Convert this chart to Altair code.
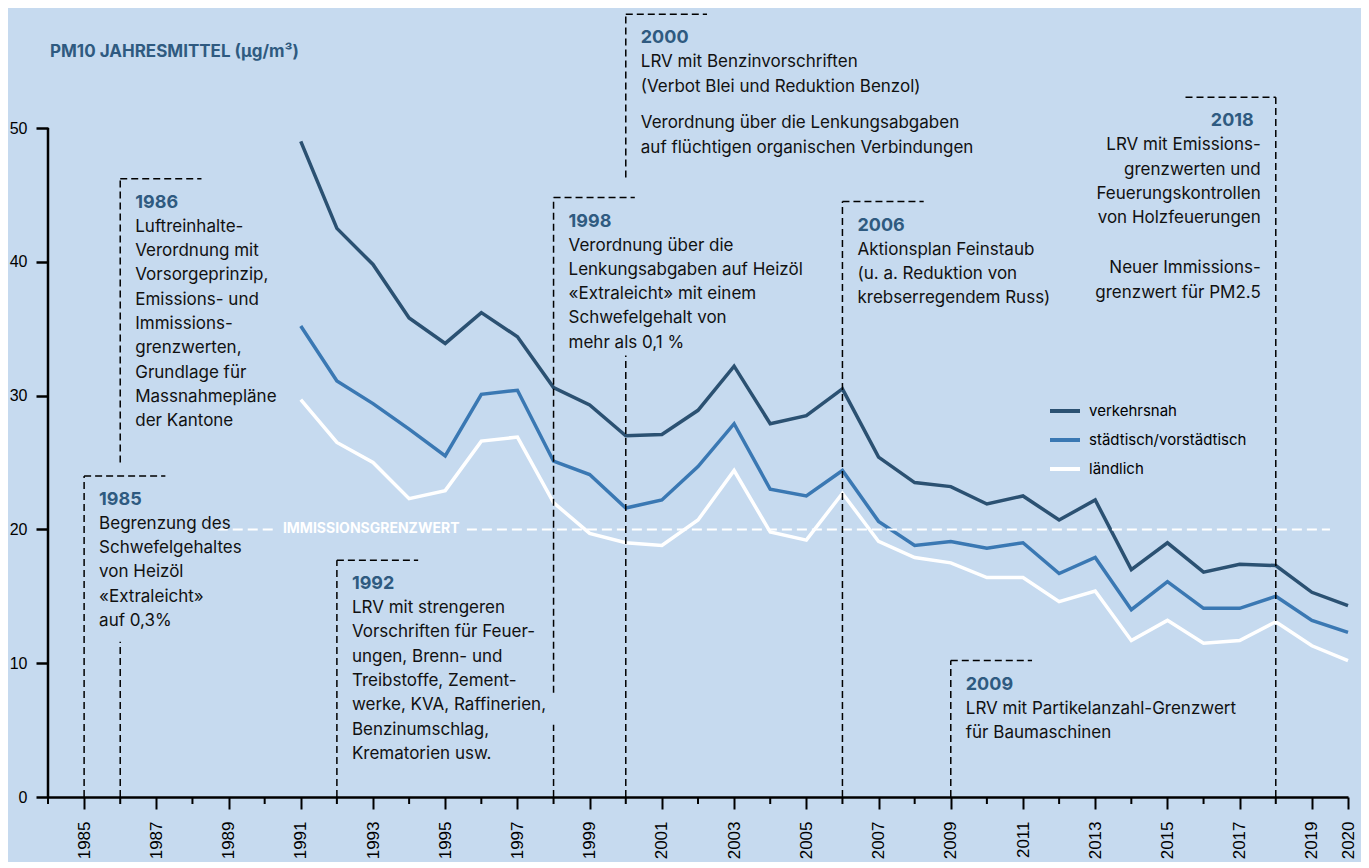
import altair as alt
import pandas as pd

# ---------------- data ----------------
years = list(range(1991, 2021))
verkehrsnah = [49.0, 42.5, 39.8, 35.8, 33.9, 36.2, 34.4, 30.6, 29.3, 27.0,
               27.1, 28.9, 32.2, 27.9, 28.5, 30.5, 25.4, 23.5, 23.2, 21.9,
               22.5, 20.7, 22.2, 17.0, 19.0, 16.8, 17.4, 17.3, 15.3, 14.3]
staedtisch = [35.2, 31.1, 29.4, 27.5, 25.5, 30.1, 30.4, 25.1, 24.1, 21.6,
              22.2, 24.7, 27.9, 23.0, 22.5, 24.4, 20.6, 18.8, 19.1, 18.6,
              19.0, 16.7, 17.9, 14.0, 16.1, 14.1, 14.1, 15.0, 13.2, 12.3]
laendlich = [29.7, 26.5, 25.0, 22.3, 22.9, 26.6, 26.9, 22.0, 19.7, 19.0,
             18.8, 20.7, 24.4, 19.8, 19.2, 22.7, 19.1, 17.9, 17.5, 16.4,
             16.4, 14.6, 15.4, 11.7, 13.2, 11.5, 11.7, 13.1, 11.3, 10.2]
series_names = ["verkehrsnah", "städtisch/vorstädtisch", "ländlich"]
series_colors = ["#2b5172", "#3a78b3", "#ffffff"]

grenzwert = 20
grenzwert_label = "IMMISSIONSGRENZWERT"
grenzwert_segments_x1 = [1988.7, 1995.6]
grenzwert_segments_x2 = [1990.3, 2019.5]
grenzwert_label_x = 1992.95

y_ticks = [0, 10, 20, 30, 40, 50]
x_major_ticks = [y for y in range(1984, 2021) if y % 2 == 1] + [2020]
x_minor_ticks = [y for y in range(1984, 2020) if y % 2 == 0]

# events (left aligned)
ev_years = [1985, 1986, 1992, 1998, 2000, 2006, 2009]
ev_tops = [24.0, 46.2, 17.7, 44.8, 58.5, 44.5, 10.2]
ev_bodies = [
    "Begrenzung des\nSchwefelgehaltes\nvon Heizöl\n«Extraleicht»\nauf 0,3%",
    "Luftreinhalte-\nVerordnung mit\nVorsorgeprinzip,\nEmissions- und\nImmissions-\ngrenzwerten,\nGrundlage für\nMassnahmepläne\nder Kantone",
    "LRV mit strengeren\nVorschriften für Feuer-\nungen, Brenn- und\nTreibstoffe, Zement-\nwerke, KVA, Raffinerien,\nBenzinumschlag,\nKrematorien usw.",
    "Verordnung über die\nLenkungsabgaben auf Heizöl\n«Extraleicht» mit einem\nSchwefelgehalt von\nmehr als 0,1 %",
    "LRV mit Benzinvorschriften\n(Verbot Blei und Reduktion Benzol)",
    "Aktionsplan Feinstaub\n(u. a. Reduktion von\nkrebserregendem Russ)",
    "LRV mit Partikelanzahl-Grenzwert\nfür Baumaschinen",
]
ev2000_extra = "Verordnung über die Lenkungsabgaben\nauf flüchtigen organischen Verbindungen"

# event (right aligned)
ev_r_year = 2018
ev_r_top = 52.3
ev_r_body = "LRV mit Emissions-\ngrenzwerten und\nFeuerungskontrollen\nvon Holzfeuerungen"
ev_r_extra = "Neuer Immissions-\ngrenzwert für PM2.5"

# dashed marker segments (vertical): year, from, to
vseg_year = [1985, 1986, 1986, 1992, 1998, 1998, 2000, 2000, 2006, 2009, 2018]
vseg_y1 = [0, 0, 25.0, 0, 0, 7.8, 0, 46.3, 0, 0, 0]
vseg_y2 = [24.0, 11.6, 46.2, 17.7, 5.4, 44.8, 33.0, 58.5, 44.5, 10.2, 52.3]
# dashed marker segments (horizontal)
hseg_x1 = [1985, 1986, 1992, 1998, 2000, 2006, 2009, 2015.5]
hseg_x2 = [1987.25, 1988.25, 1994.25, 2000.25, 2002.25, 2008.25, 2011.25, 2018]
hseg_y = [24.0, 46.2, 17.7, 44.8, 58.5, 44.5, 10.2, 52.3]

title_text = "PM10 JAHRESMITTEL (µg/m³)"

# ---------------- tables ----------------
rows = []
for name, vals in zip(series_names, [verkehrsnah, staedtisch, laendlich]):
    for y, v in zip(years, vals):
        rows.append({"x": y, "y": v, "Typ": name})
df = pd.DataFrame(rows)

df_ev = pd.DataFrame({"x": ev_years, "y": ev_tops,
                      "label": [str(y) for y in ev_years], "body": ev_bodies})
df_ev2000 = pd.DataFrame({"x": [2000], "y": [58.5], "body": [ev2000_extra]})
df_evr = pd.DataFrame({"x": [ev_r_year], "y": [ev_r_top], "label": [str(ev_r_year)],
                       "body": [ev_r_body], "extra": [ev_r_extra]})
df_v = pd.DataFrame({"x": vseg_year, "y": vseg_y1, "y2": vseg_y2})
df_h = pd.DataFrame({"x": hseg_x1, "x2": hseg_x2, "y": hseg_y})
df_g = pd.DataFrame({"x": grenzwert_segments_x1, "x2": grenzwert_segments_x2,
                     "y": [grenzwert] * len(grenzwert_segments_x1)})
df_gl = pd.DataFrame({"x": [grenzwert_label_x], "y": [grenzwert], "t": [grenzwert_label]})
df_yaxis = pd.DataFrame({"x": [1984], "y": [y_ticks[0]], "y2": [y_ticks[-1]]})
df_minor = pd.DataFrame({"x": x_minor_ticks})

# ---------------- scales & axes ----------------
XS = alt.Scale(domain=[1984, 2020], nice=False, zero=False)
YS = alt.Scale(domain=[0, 58.97], nice=False, zero=True)
PLOT_W, PLOT_H = 1300, 789

AX = alt.Axis(values=x_major_ticks, format="d", title=None, grid=False,
              labelAngle=-90, labelFont="Liberation Sans", labelFontSize=17, labelColor="black",
              labelPadding=12, labelFlush=False, labelOverlap=False, tickSize=12,
              tickWidth=2, tickColor="black", domainColor="black", domainWidth=2.5)
AY = alt.Axis(values=y_ticks, domain=False, grid=False, title=None, tickSize=12, tickWidth=2.5,
              tickColor="black", labelFont="Liberation Sans", labelFontSize=16,
              labelColor="black", labelPadding=9)

FONT = "Inter"
YEARCOL = "#2f5a80"


def X(field="x"):
    return alt.X(f"{field}:Q", scale=XS, axis=AX)


def Y(field="y"):
    return alt.Y(f"{field}:Q", scale=YS, axis=AY)


lines = alt.Chart(df).mark_line(strokeWidth=3.5).encode(
    x=X(), y=Y(),
    color=alt.Color("Typ:N", scale=alt.Scale(domain=series_names, range=series_colors),
                    legend=alt.Legend(orient="none", legendX=1000, legendY=386, title=None,
                                      symbolType="stroke", symbolSize=900, symbolStrokeWidth=4,
                                      labelFont=FONT, labelFontSize=15, labelColor="black",
                                      labelOffset=7, rowPadding=4, padding=0)),
    detail="Typ:N",
)

minor_ticks = alt.Chart(df_minor).mark_rule(color="black", strokeWidth=2).encode(
    x=X(), y=alt.value(PLOT_H), y2=alt.value(PLOT_H + 7))

yaxis_line = alt.Chart(df_yaxis).mark_rule(color="black", strokeWidth=2.5).encode(
    x=X(), y=Y(), y2="y2:Q")

grenz = alt.Chart(df_g).mark_rule(color="white", strokeWidth=2, strokeDash=[10, 5]).encode(
    x=X(), x2="x2:Q", y=Y())
grenz_label = alt.Chart(df_gl).mark_text(font=FONT, fontSize=14, fontWeight="bold",
                                         color="white", baseline="middle", align="center").encode(
    x=X(), y=Y(), text="t:N")

vsegs = alt.Chart(df_v).mark_rule(color="black", strokeWidth=1.5, strokeDash=[7, 4]).encode(
    x=X(), y=Y(), y2="y2:Q")
hsegs = alt.Chart(df_h).mark_rule(color="black", strokeWidth=1.5, strokeDash=[7, 4]).encode(
    x=X(), x2="x2:Q", y=Y())

ev_year_txt = alt.Chart(df_ev).mark_text(font=FONT, fontSize=18, fontWeight="bold", color=YEARCOL,
                                         align="left", baseline="top", dx=15, dy=15).encode(
    x=X(), y=Y(), text="label:N")
ev_body_txt = alt.Chart(df_ev).mark_text(font=FONT, fontSize=17, color="#111111", align="left",
                                         baseline="top", dx=15, dy=40, lineBreak="\n",
                                         lineHeight=24.3).encode(
    x=X(), y=Y(), text="body:N")
ev2000_txt = alt.Chart(df_ev2000).mark_text(font=FONT, fontSize=17, color="#111111", align="left",
                                            baseline="top", dx=15, dy=101, lineBreak="\n",
                                            lineHeight=24.3).encode(
    x=X(), y=Y(), text="body:N")

evr_year = alt.Chart(df_evr).mark_text(font=FONT, fontSize=18, fontWeight="bold", color=YEARCOL,
                                       align="right", baseline="top", dx=-22, dy=15).encode(
    x=X(), y=Y(), text="label:N")
evr_body = alt.Chart(df_evr).mark_text(font=FONT, fontSize=17, color="#111111", align="right",
                                       baseline="top", dx=-15, dy=40, lineBreak="\n",
                                       lineHeight=24.3).encode(
    x=X(), y=Y(), text="body:N")
evr_extra = alt.Chart(df_evr).mark_text(font=FONT, fontSize=17, color="#111111", align="right",
                                        baseline="top", dx=-15, dy=163, lineBreak="\n",
                                        lineHeight=24.3).encode(
    x=X(), y=Y(), text="extra:N")

title = alt.Chart(pd.DataFrame({"t": [title_text]})).mark_text(
    font=FONT, fontSize=17, fontWeight="bold", color=YEARCOL, align="left", baseline="middle"
).encode(x=alt.value(2), y=alt.value(44), text="t:N")

chart = alt.layer(
    lines, grenz, grenz_label, vsegs, hsegs, yaxis_line, minor_ticks,
    ev_year_txt, ev_body_txt, ev2000_txt, evr_year, evr_body, evr_extra, title
).properties(
    width=PLOT_W, height=PLOT_H,
    autosize=alt.AutoSizeParams(type="none"),
    padding={"left": 40, "top": 0, "right": 13, "bottom": 65},
).configure(background="#c6daef").configure_view(stroke=None)

chart.save("out.html", embed_options={"renderer": "svg", "actions": False})
